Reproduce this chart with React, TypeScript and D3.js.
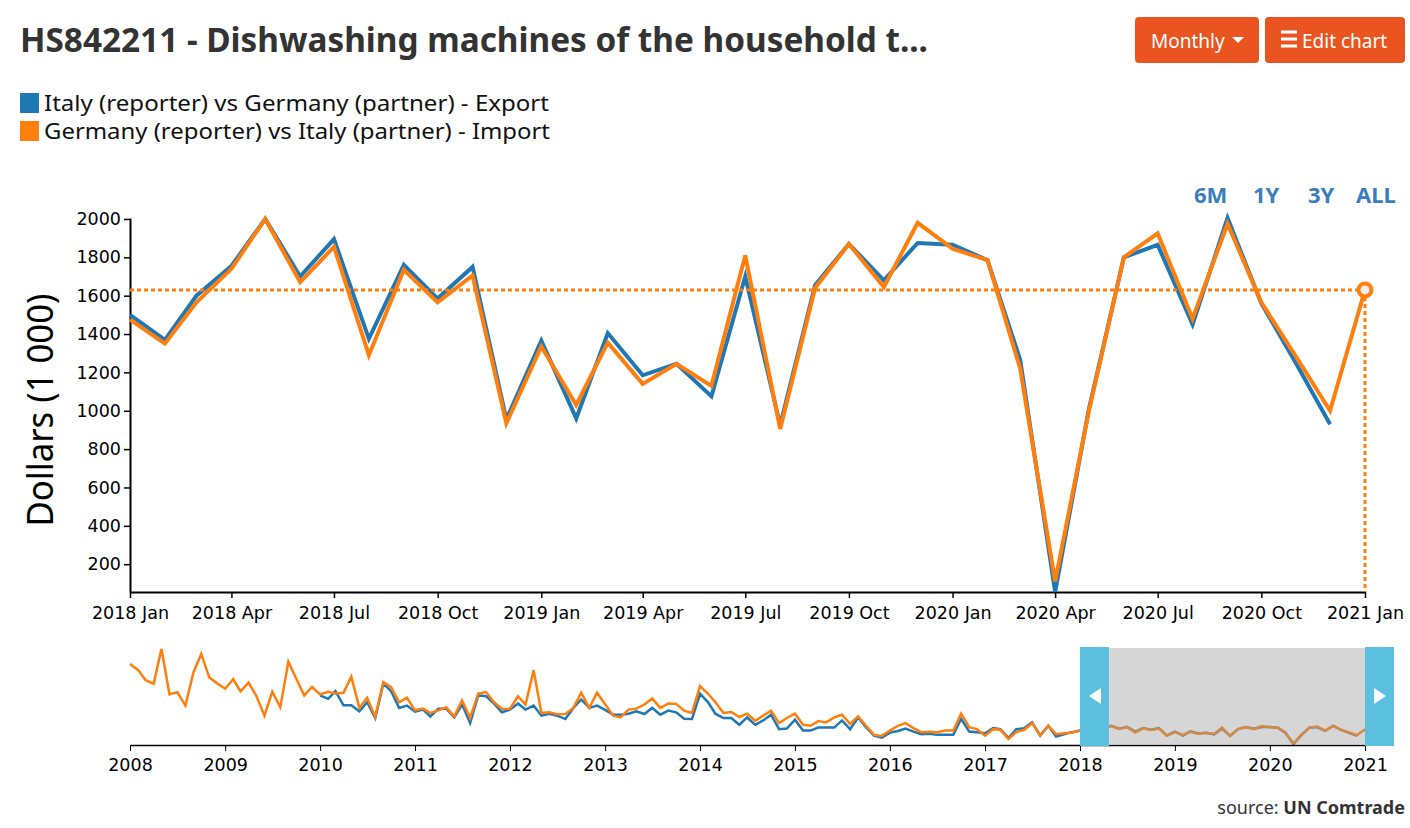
import { useEffect, useRef } from 'react'
import * as d3 from 'd3'

// Germany (reporter) vs Italy (partner) - Import, monthly from 2008 Jan, thousand dollars
const importValues = [
  8590, 7970, 6860, 6500, 10200, 5350, 5590, 4160, 7690, 9670, 7150, 6530,
  5960, 6970, 5670, 6610, 5170, 3080, 5630, 3980, 8840, 7040, 5240, 6140,
  5350, 5630, 5450, 5530, 7250, 3910, 4990, 2940, 6670, 6130, 4510, 4990,
  3650, 3830, 3370, 3650, 3970, 3000, 4700, 2830, 5450, 5600, 4510, 3800,
  3830, 5160, 4270, 7940, 3370, 3440, 3220, 3260, 3910, 5530, 3910, 5530,
  4300, 3080, 2890, 3730, 3830, 4270, 4910, 3910, 4370, 4340, 3620, 3370,
  6240, 5420, 4510, 3370, 3480, 2940, 3290, 2540, 3080, 3620, 2290, 2830,
  3290, 2110, 2000, 2500, 2360, 2890, 3190, 2200, 3000, 2000, 1030, 920,
  1490, 2000, 2290, 1750, 1320, 1350, 1320, 1490, 1490, 3290, 1860, 1640,
  950, 1640, 1570, 590, 1320, 1570, 2290, 950, 2000, 1100, 1210, 1280,
  1475, 1350, 1565, 1740, 2000, 1670, 1855, 1290, 1735, 1565, 1705, 935,
  1335, 1030, 1355, 1140, 1245, 1130, 1810, 905, 1640, 1870, 1645, 1980,
  1845, 1785, 1220, 110, 1000, 1800, 1925, 1480, 1975, 1565, 1280, 1000,
  1630
]
const importStart = new Date(2008, 0, 1)

// Italy (reporter) vs Germany (partner) - Export, monthly from 2010 Jan
const exportValues = [
  5240, 4880, 5710, 4190, 4190, 3550, 4520, 2830, 6500, 5700, 3910, 4160,
  3510, 3730, 3000, 3830, 3830, 2890, 4270, 2290, 5240, 5160, 4370, 3440,
  3730, 4370, 3730, 4160, 3080, 3290, 3080, 2720, 3910, 4810, 3910, 4160,
  3700, 3190, 3190, 3290, 3550, 3260, 3910, 3190, 3620, 3440, 2750, 2720,
  5420, 4510, 3290, 2830, 2830, 2110, 2890, 2110, 2570, 3190, 1640, 1710,
  2650, 1490, 1490, 1810, 1810, 1810, 2570, 1640, 2890, 1860, 950, 730,
  1270, 1450, 1710, 1380, 1100, 1140, 1030, 1030, 1030, 2750, 1380, 1320,
  1210, 1750, 1640, 700, 1640, 1750, 2360, 950, 2000, 850, 1100, 1320,
  1500, 1370, 1600, 1755, 2000, 1700, 1895, 1375, 1760, 1585, 1750, 955,
  1365, 960, 1405, 1185, 1245, 1075, 1700, 925, 1655, 1870, 1680, 1875,
  1865, 1785, 1265, 55, 1010, 1800, 1865, 1450, 2005, 1560, 1245, 930
]
const exportStart = new Date(2010, 0, 1)

const seriesNames = [
  'Italy (reporter) vs Germany (partner) - Export',
  'Germany (reporter) vs Italy (partner) - Import'
]
const seriesColors = ['#1f77b4', '#ff7f0e']
const rangeButtons = ['6M', '1Y', '3Y', 'ALL']

const viewStart = new Date(2018, 0, 1)
const viewEnd = new Date(2021, 0, 1)
const fullStart = new Date(2008, 0, 1)

type Pt = { date: Date; value: number }

function toPoints(start: Date, values: number[]): Pt[] {
  return values.map((v, i) => ({ date: d3.timeMonth.offset(start, i), value: v }))
}

export default function App() {
  const svgRef = useRef<SVGSVGElement>(null)

  useEffect(() => {
    if (!svgRef.current) return
    const svg = d3.select(svgRef.current)
    svg.selectAll('*').remove()

    const exportPts = toPoints(exportStart, exportValues)
    const importPts = toPoints(importStart, importValues)
    const series = [exportPts, importPts]
    const uiFont = '"Noto Sans", sans-serif'
    const tickFont = '"DejaVu Sans", sans-serif'

    // 제목
    svg.append('text')
      .attr('x', 20).attr('y', 52)
      .attr('textLength', 908).attr('lengthAdjust', 'spacingAndGlyphs')
      .style('font-family', uiFont).style('font-size', '34px').style('font-weight', 'bold')
      .style('fill', '#333')
      .text('HS842211 - Dishwashing machines of the household t...')

    // 버튼
    const buttons = [
      { x: 1135, w: 124, label: 'Monthly' },
      { x: 1265, w: 140, label: 'Edit chart' }
    ]
    buttons.forEach((b, i) => {
      svg.append('rect').attr('x', b.x).attr('y', 17).attr('width', b.w).attr('height', 46)
        .attr('rx', 4).attr('fill', '#e95420')
      if (i === 0) {
        svg.append('text').attr('x', 1151).attr('y', 48)
          .style('font-family', uiFont).style('font-size', '19px').style('fill', '#fff')
          .text(b.label)
        svg.append('path').attr('d', 'M1232,37 L1244,37 L1238,43 Z').attr('fill', '#fff')
      } else {
        ;[32, 39, 46].forEach(y => {
          svg.append('rect').attr('x', 1281).attr('y', y - 1.5).attr('width', 16).attr('height', 3).attr('fill', '#fff')
        })
        svg.append('text').attr('x', 1302).attr('y', 48)
          .style('font-family', uiFont).style('font-size', '19px').style('fill', '#fff')
          .text(b.label)
      }
    })

    // 범례
    seriesNames.forEach((name, i) => {
      const y = 93 + i * 28
      svg.append('rect').attr('x', 20).attr('y', y).attr('width', 19).attr('height', 20).attr('fill', seriesColors[i])
      svg.append('text').attr('x', 44).attr('y', y + 18)
        .attr('textLength', 505 + i).attr('lengthAdjust', 'spacingAndGlyphs')
        .style('font-family', uiFont).style('font-size', '21px').style('fill', '#111')
        .text(name)
    })

    // 기간 버튼
    const rangeX = [1194, 1253, 1308, 1356]
    rangeButtons.forEach((t, i) => {
      svg.append('text').attr('x', rangeX[i]).attr('y', 203)
        .style('font-family', uiFont).style('font-size', '22px').style('font-weight', 'bold')
        .style('fill', '#3a7dbf').text(t)
    })

    // 메인 차트
    const x = d3.scaleTime().domain([viewStart, viewEnd]).range([130, 1365])
    const visible = series.map(s => s.filter(p => p.date >= viewStart && p.date <= viewEnd))
    const allVis = visible.flat().map(p => p.value)
    const y = d3.scaleLinear().domain([d3.min(allVis)!, d3.max(allVis)!]).range([592, 218])

    const yAxis = svg.append('g').attr('transform', 'translate(130,0)')
      .call(d3.axisLeft(y).ticks(10).tickFormat(d3.format('d') as any).tickSizeOuter(0))
    const xAxis = svg.append('g').attr('transform', 'translate(0,592)')
      .call(d3.axisBottom(x).ticks(d3.timeMonth.every(3)).tickFormat(d3.timeFormat('%Y %b') as any).tickSizeOuter(0))
    ;[yAxis, xAxis].forEach(g => {
      g.selectAll('text').style('font-family', tickFont).style('font-size', '17.5px').style('fill', '#000')
      g.select('.domain').attr('stroke-width', 2)
      g.selectAll('line').attr('stroke-width', 1.5)
    })
    xAxis.selectAll('text').attr('dy', '1em')

    svg.append('text')
      .attr('transform', 'translate(53,410) rotate(-90)')
      .attr('text-anchor', 'middle')
      .attr('textLength', 233).attr('lengthAdjust', 'spacingAndGlyphs')
      .style('font-family', uiFont).style('font-size', '37px').style('fill', '#000')
      .text('Dollars (1 000)')

    const line = d3.line<Pt>().x(d => x(d.date)).y(d => y(d.value))
    visible.forEach((s, i) => {
      svg.append('path').datum(s).attr('d', line).attr('fill', 'none')
        .attr('stroke', seriesColors[i]).attr('stroke-width', 4).attr('stroke-linejoin', 'miter')
    })

    // 마지막 값 표시
    const last = visible[1][visible[1].length - 1]
    const lx = x(last.date)
    const ly = y(last.value)
    svg.append('line').attr('x1', 130).attr('x2', lx).attr('y1', ly).attr('y2', ly)
      .attr('stroke', seriesColors[1]).attr('stroke-width', 3).attr('stroke-dasharray', '4,3')
    svg.append('line').attr('x1', lx).attr('x2', lx).attr('y1', ly).attr('y2', 592)
      .attr('stroke', seriesColors[1]).attr('stroke-width', 3).attr('stroke-dasharray', '4,3')
    svg.append('circle').attr('cx', lx).attr('cy', ly).attr('r', 6.5)
      .attr('fill', '#eee').attr('stroke', seriesColors[1]).attr('stroke-width', 4)

    // 미니 차트
    const x2 = d3.scaleTime().domain([fullStart, viewEnd]).range([130, 1365])
    const allVals = series.flat().map(p => p.value)
    const y2 = d3.scaleLinear().domain([d3.min(allVals)!, d3.max(allVals)!]).range([744, 649])
    const line2 = d3.line<Pt>().x(d => x2(d.date)).y(d => y2(d.value))
    series.forEach((s, i) => {
      svg.append('path').datum(s).attr('d', line2).attr('fill', 'none')
        .attr('stroke', seriesColors[i]).attr('stroke-width', 2.5)
    })
    const xAxis2 = svg.append('g').attr('transform', 'translate(0,745)')
      .call(d3.axisBottom(x2).ticks(d3.timeYear.every(1)).tickFormat(d3.timeFormat('%Y') as any).tickSizeOuter(0))
    xAxis2.selectAll('text').style('font-family', tickFont).style('font-size', '17.5px').style('fill', '#000').attr('dy', '0.95em')
    xAxis2.select('.domain').attr('stroke-width', 1.5)

    // 브러시 영역
    const bx0 = x2(viewStart)
    const bx1 = x2(viewEnd)
    svg.append('rect').attr('x', bx0).attr('y', 648).attr('width', bx1 - bx0).attr('height', 96)
      .attr('fill', '#999').attr('fill-opacity', 0.4)
    const handles = [
      { x: bx0, arrow: `M${bx0 + 21},688 L${bx0 + 21},704 L${bx0 + 9},696 Z` },
      { x: bx1, arrow: `M${bx1 + 9},688 L${bx1 + 9},704 L${bx1 + 21},696 Z` }
    ]
    handles.forEach(h => {
      svg.append('rect').attr('x', h.x).attr('y', 647).attr('width', 29).attr('height', 99).attr('fill', '#5bc0de')
      svg.append('path').attr('d', h.arrow).attr('fill', '#fff')
    })

    // 출처
    const src = svg.append('text').attr('x', 1405).attr('y', 814).attr('text-anchor', 'end')
      .style('font-family', uiFont).style('font-size', '18px').style('fill', '#333')
    src.append('tspan').text('source: ')
    src.append('tspan').style('font-weight', 'bold').text('UN Comtrade')
  }, [])

  return (
    <div style={{ position: 'absolute', left: 0, top: 0, background: '#fff' }}>
      <svg ref={svgRef} width={1410} height={828} style={{ display: 'block' }}></svg>
    </div>
  )
}
